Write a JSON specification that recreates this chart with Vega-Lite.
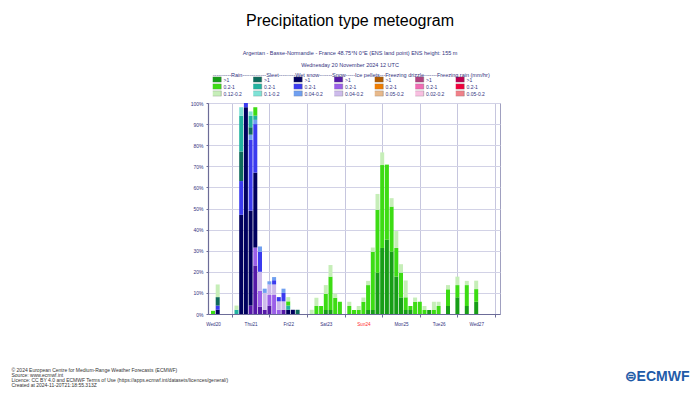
{
  "$schema": "https://vega.github.io/schema/vega-lite/v6.json",
  "autosize": {"type": "none"},
  "padding": {"left": 208, "top": 103, "right": 200, "bottom": 86},
  "width": 292,
  "height": 211,
  "background": "white",
  "config": {"view": {"stroke": "#a0a0c0", "strokeWidth": 1}, "font": "Liberation Sans"},
  "title": {
    "text": "Precipitation type meteogram",
    "subtitle": ["Argentan - Basse-Normandie - France 48.75°N 0°E (ENS land point) ENS height: 155 m", "Wednesday 20 November 2024 12 UTC"],
    "anchor": "middle", "frame": "group", "dx": -4,
    "font": "Liberation Sans", "fontSize": 16, "fontWeight": "normal", "color": "#000000",
    "subtitleFont": "Liberation Sans", "subtitleFontSize": 5.5, "subtitleColor": "#333380",
    "subtitlePadding": 22, "subtitleLineHeight": 12, "offset": 4
  },
  "data": {"values": [
    {"h":0,"c":"R2","p":1.5},
    {"h":3,"c":"W1","p":2},{"h":3,"c":"W2","p":2},{"h":3,"c":"S1","p":4},{"h":3,"c":"R3","p":6},
    {"h":15,"c":"S2","p":2},{"h":15,"c":"R3","p":2},
    {"h":18,"c":"W1","p":47},{"h":18,"c":"W2","p":16},{"h":18,"c":"S1","p":14},{"h":18,"c":"S2","p":17},{"h":18,"c":"S3","p":4},
    {"h":21,"c":"W1","p":98},{"h":21,"c":"W2","p":2},
    {"h":24,"c":"N1","p":4},{"h":24,"c":"W1","p":45},{"h":24,"c":"W2","p":33.5},{"h":24,"c":"W3","p":2.5},{"h":24,"c":"S1","p":3.5},{"h":24,"c":"S2","p":5.5},{"h":24,"c":"S3","p":2},
    {"h":27,"c":"N1","p":23},{"h":27,"c":"N2","p":8.5},{"h":27,"c":"W1","p":35.5},{"h":27,"c":"W2","p":23},{"h":27,"c":"W3","p":2},{"h":27,"c":"S2","p":2},{"h":27,"c":"R2","p":4},
    {"h":30,"c":"N1","p":3.5},{"h":30,"c":"N2","p":7.5},{"h":30,"c":"N3","p":9},{"h":30,"c":"W2","p":9.5},{"h":30,"c":"W3","p":2.5},
    {"h":33,"c":"N1","p":2},{"h":33,"c":"N3","p":8},{"h":33,"c":"W3","p":2},
    {"h":36,"c":"N1","p":4},{"h":36,"c":"N2","p":5},{"h":36,"c":"N3","p":5},{"h":36,"c":"W3","p":1.5},
    {"h":39,"c":"N2","p":9},{"h":39,"c":"N3","p":5},{"h":39,"c":"W2","p":2},{"h":39,"c":"W3","p":1.5},
    {"h":42,"c":"N2","p":2},{"h":42,"c":"N3","p":4},{"h":42,"c":"W2","p":2},
    {"h":45,"c":"N1","p":2},{"h":45,"c":"N3","p":4},{"h":45,"c":"W2","p":4},{"h":45,"c":"W3","p":2},
    {"h":48,"c":"W1","p":2},{"h":48,"c":"S2","p":2},{"h":48,"c":"R2","p":2},{"h":48,"c":"R3","p":2},
    {"h":51,"c":"W1","p":2},
    {"h":54,"c":"S1","p":2},
    {"h":63,"c":"R3","p":2},
    {"h":66,"c":"R2","p":3.8},{"h":66,"c":"R3","p":3.9},
    {"h":69,"c":"R2","p":3.8},
    {"h":72,"c":"R1","p":1.9},{"h":72,"c":"R2","p":7.6},{"h":72,"c":"R3","p":4.2},
    {"h":75,"c":"R1","p":1.9},{"h":75,"c":"R2","p":15.8},{"h":75,"c":"R3","p":5.5},
    {"h":78,"c":"R2","p":7.7},{"h":78,"c":"R3","p":2},
    {"h":81,"c":"R2","p":5.8},
    {"h":87,"c":"R2","p":3.8},{"h":87,"c":"R3","p":2},
    {"h":90,"c":"R2","p":1.9},
    {"h":93,"c":"R2","p":1.9},{"h":93,"c":"R3","p":1.9},
    {"h":96,"c":"R2","p":5.8},{"h":96,"c":"R3","p":2},
    {"h":99,"c":"R1","p":1.9},{"h":99,"c":"R2","p":11.8},{"h":99,"c":"R3","p":2},
    {"h":102,"c":"R1","p":1.9},{"h":102,"c":"R2","p":27.6},{"h":102,"c":"R3","p":2},
    {"h":105,"c":"R1","p":19.5},{"h":105,"c":"R2","p":29.8},{"h":105,"c":"R3","p":7.6},
    {"h":108,"c":"R1","p":31.3},{"h":108,"c":"R2","p":39.3},{"h":108,"c":"R3","p":6},
    {"h":111,"c":"R1","p":35.2},{"h":111,"c":"R2","p":35.6},
    {"h":114,"c":"R1","p":29.5},{"h":114,"c":"R2","p":21.4},{"h":114,"c":"R3","p":4},
    {"h":117,"c":"R1","p":17.7},{"h":117,"c":"R2","p":13.6},{"h":117,"c":"R3","p":8},
    {"h":120,"c":"R1","p":7.9},{"h":120,"c":"R2","p":11.7},{"h":120,"c":"R3","p":4},
    {"h":123,"c":"R1","p":1.9},{"h":123,"c":"R2","p":6},{"h":123,"c":"R3","p":8},
    {"h":126,"c":"R1","p":1.9},{"h":126,"c":"R2","p":1.9},
    {"h":129,"c":"R2","p":5.8},{"h":129,"c":"R3","p":2},
    {"h":132,"c":"R2","p":5.8},
    {"h":135,"c":"R2","p":1.9},{"h":135,"c":"R3","p":1.9},
    {"h":138,"c":"R1","p":1.9},
    {"h":141,"c":"R2","p":1.9},{"h":141,"c":"R3","p":3.9},
    {"h":144,"c":"R2","p":3.8},{"h":144,"c":"R3","p":2},
    {"h":150,"c":"R1","p":3.8},{"h":150,"c":"R2","p":7.9},{"h":150,"c":"R3","p":2},
    {"h":156,"c":"R1","p":7.9},{"h":156,"c":"R2","p":5.8},{"h":156,"c":"R3","p":4},
    {"h":162,"c":"R1","p":3.8},{"h":162,"c":"R2","p":9.9},{"h":162,"c":"R3","p":2},
    {"h":168,"c":"R1","p":5.8},{"h":168,"c":"R2","p":6},{"h":168,"c":"R3","p":4}
  ]},
  "transform": [
    {"calculate": "indexof(['N1','N2','N3','W1','W2','W3','S1','S2','S3','R1','R2','R3'], datum.c)", "as": "o"}
  ],
  "mark": {"type": "bar", "width": 4, "clip": true},
  "encoding": {
    "x": {
      "field": "h", "type": "quantitative",
      "scale": {"domain": [0, 180], "nice": false, "zero": false},
      "axis": {
        "values": [0,12,24,36,48,60,72,84,96,108,120,132,144,156,168,180],
        "labelExpr": "datum.value % 24 == 0 ? ['Wed20','Thu21','Fri22','Sat23','Sun24','Mon25','Tue26','Wed27'][datum.value / 24] : ''",
        "labelFlush": false, "labelOverlap": false,
        "labelFont": "Liberation Sans", "labelFontSize": 4.6,
        "labelColor": {"condition": {"test": "datum.value == 96", "value": "#ff2a2a"}, "value": "#333380"},
        "labelPadding": 4.5,
        "grid": true, "gridColor": "#c6c6de", "gridWidth": 1,
        "gridOpacity": {"condition": {"test": "datum.value % 24 == 12", "value": 1}, "value": 0},
        "ticks": true, "tickSize": 3, "tickColor": "#6c6c98",
        "tickOpacity": {"condition": {"test": "datum.value % 24 == 12", "value": 1}, "value": 0},
        "domainColor": "#6c6c98", "domainWidth": 1,
        "title": "⊜ECMWF", "titleFont": "Liberation Sans", "titleFontSize": 14, "titleFontWeight": "bold",
        "titleColor": "#1f5ba8", "titleAlign": "right", "titleBaseline": "middle", "titleAnchor": "end",
        "titleX": 481, "titleY": 62
      }
    },
    "y": {
      "field": "p", "type": "quantitative", "stack": "zero",
      "scale": {"domain": [0, 100], "nice": false},
      "axis": {
        "values": [0,10,20,30,40,50,60,70,80,90,100],
        "labelExpr": "datum.value + '%'",
        "labelFont": "Liberation Sans", "labelFontSize": 5, "labelColor": "#333380", "labelPadding": 3,
        "gridColor": "#d2d2e6", "gridWidth": 1,
        "tickSize": 2, "tickColor": "#6c6c98", "domainColor": "#6c6c98", "domainWidth": 1.2,
        "title": ["© 2024 European Centre for Medium-Range Weather Forecasts (ECMWF)", "Source: www.ecmwf.int", "Licence: CC BY 4.0 and ECMWF Terms of Use (https://apps.ecmwf.int/datasets/licences/general/)", "Created at 2024-11-20T21:18:55.313Z"],
        "titleFont": "Liberation Sans", "titleFontSize": 5, "titleFontWeight": "normal", "titleColor": "#333333",
        "titleAngle": 0, "titleAlign": "left", "titleBaseline": "top", "titleLineHeight": 5,
        "titleX": -197, "titleY": 264
      }
    },
    "color": {
      "field": "c", "type": "nominal",
      "scale": {
        "domain": ["R1","S1","W1","N1","I1","D1","F1","R2","S2","W2","N2","I2","D2","F2","R3","S3","W3","N3","I3","D3","F3"],
        "range": ["#179e17","#0e6b5c","#00005e","#5519a8","#b35c00","#b0427f","#bd0050",
                  "#3ddc14","#22b3a0","#3b3bef","#9b5fe8","#f07d00","#f06cb4","#f0003c",
                  "#c6eeb8","#7ee2d6","#6f9ff0","#cdbbeb","#e8b98a","#f8bfe0","#f08088"]
      },
      "legend": {
        "orient": "none", "legendX": 4.75, "legendY": -30.5,
        "columns": 7, "direction": "horizontal", "gridAlign": "all",
        "title": "----------Rain-------------Sleet---------Wet snow-------Snow-----Ice pellets---Freezing drizzle-------Freezing rain (mm/hr)",
        "titleFont": "Liberation Sans", "titleFontSize": 5.5, "titleFontWeight": "normal", "titleColor": "#333380",
        "titleLimit": 500, "titlePadding": -1.5, "titleBaseline": "top",
        "labelFont": "Liberation Sans", "labelFontSize": 5, "labelColor": "#333380", "labelOffset": 4.75, "labelLimit": 100,
        "labelExpr": "['>1','>1','>1','>1','>1','>1','>1','0.2-1','0.2-1','0.2-1','0.2-1','0.2-1','0.2-1','0.2-1','0.12-0.2','0.1-0.2','0.04-0.2','0.04-0.2','0.05-0.2','0.02-0.2','0.05-0.2'][indexof(['R1','S1','W1','N1','I1','D1','F1','R2','S2','W2','N2','I2','D2','F2','R3','S3','W3','N3','I3','D3','F3'], datum.label)]",
        "symbolType": "M-2,-1H2V1H-2Z", "symbolSize": 30.25, "symbolOpacity": 1,
        "symbolStrokeColor": "#666666", "symbolStrokeWidth": 0.4,
        "clipHeight": 6,
        "columnPadding": 10.5, "rowPadding": 1, "padding": 0
      }
    },
    "order": {"field": "o", "type": "quantitative"}
  }
}
